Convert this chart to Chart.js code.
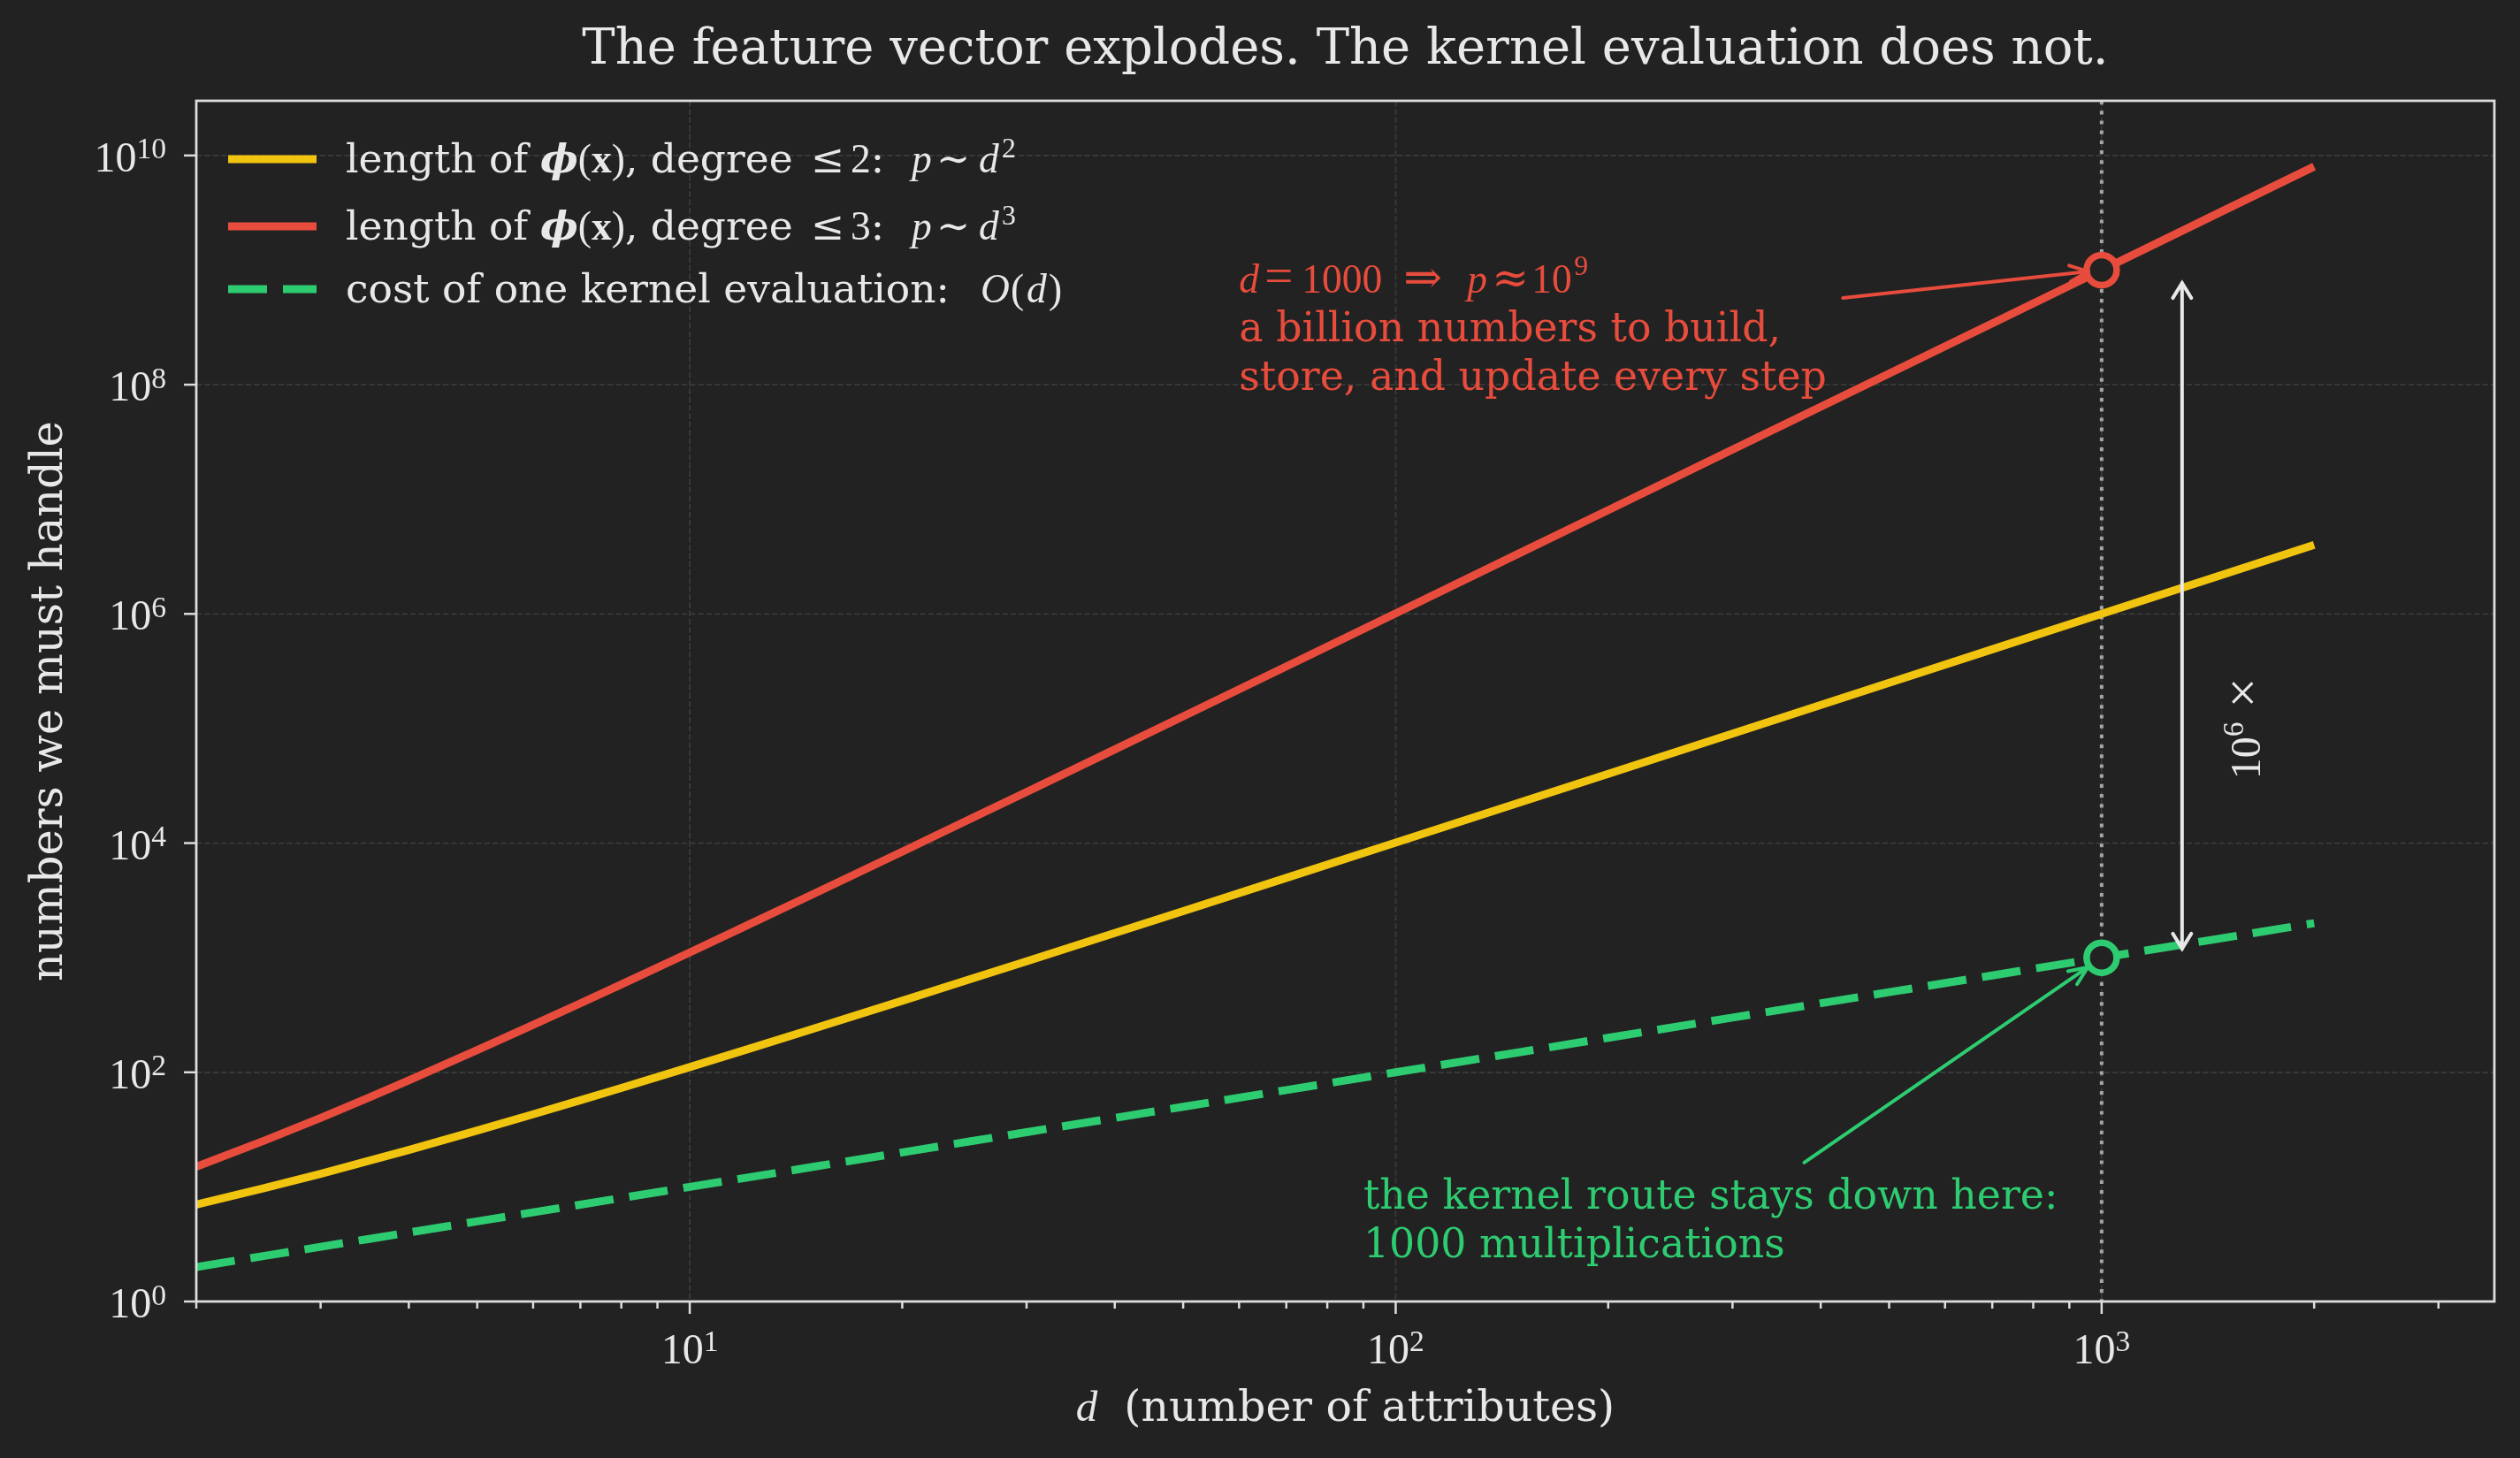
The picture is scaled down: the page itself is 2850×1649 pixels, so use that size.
<!DOCTYPE html>
<html>
<head>
<meta charset="utf-8">
<script src="https://cdn.jsdelivr.net/npm/chart.js@4.4.1/dist/chart.umd.min.js"></script>
<style>
	html, body { margin: 0; padding: 0; background: #222222; }
	canvas { display: block; }
</style>
</head>
<body>
<canvas id="chart" width="2850" height="1649"></canvas>
<script>
/*********************** DATA ******************************/
// d, число признаков
const dValues = [2, 2.5, 3, 3.5, 4, 5, 6, 7, 8, 10, 12, 15, 20, 25, 30, 40, 50, 70, 100, 150, 200, 300, 500, 700, 1000, 1500, 2000];
// длина phi(x) для степени <= 2
const lenDegree2 = [7, 9.8, 13, 16.8, 21, 31, 43, 57, 73, 111, 157, 241, 421, 651, 931, 1640, 2550, 4970,
	10100, 22650, 40200, 90300, 250500, 490700, 1.0e6, 2.25e6, 4.0e6];
// длина phi(x) для степени <= 3
const lenDegree3 = [15, 25.4, 40, 59.6, 85, 156, 259, 400, 585, 1110, 1890, 3620, 8420, 16300, 27900, 65600, 127500, 348000,
	1.01e6, 3.40e6, 8.04e6, 2.71e7, 1.25e8, 3.43e8, 1.0e9, 3.38e9, 8.0e9];
// стоимость одного вычисления ядра
const kernelCost = [2, 2.5, 3, 3.5, 4, 5, 6, 7, 8, 10, 12, 15, 20, 25, 30, 40, 50, 70,
	100, 150, 200, 300, 500, 700, 1000, 1500, 2000];

const xMajorTicks = [10, 100, 1000];
const xTickExponents = ['1', '2', '3'];
const xMinorTicks = [2, 3, 4, 5, 6, 7, 8, 9, 20, 30, 40, 50, 60, 70, 80, 90,
	200, 300, 400, 500, 600, 700, 800, 900, 2000, 3000];
const yMajorTicks = [1, 1e2, 1e4, 1e6, 1e8, 1e10];
const yTickExponents = ['0', '2', '4', '6', '8', '10'];

const seriesColors = { deg2: '#F1C40F', deg3: '#E74C3C', kernel: '#2ECC71' };

// подписи легенды (f = i/b/bi, m = формула, sup = индекс, at = смещение от начала строки, sz = масштаб)
const legendRows = [
	[{ t: 'length of ' }, { t: 'ϕ', f: 'bi', at: 220 }, { t: '(', m: 1 }, { t: 'x', f: 'b', m: 1 },
		{ t: ')', m: 1 }, { t: ', degree' }, { t: '≤', at: 526 }, { t: '2', m: 1, at: 571 }, { t: ':' },
		{ t: 'p', f: 'i', m: 1, at: 640 }, { t: '∼', at: 668 }, { t: 'd', f: 'i', m: 1, at: 716 },
		{ t: '2', m: 1, sup: true, at: 742 }],
	[{ t: 'length of ' }, { t: 'ϕ', f: 'bi', at: 220 }, { t: '(', m: 1 }, { t: 'x', f: 'b', m: 1 },
		{ t: ')', m: 1 }, { t: ', degree' }, { t: '≤', at: 526 }, { t: '3', m: 1, at: 571 }, { t: ':' },
		{ t: 'p', f: 'i', m: 1, at: 640 }, { t: '∼', at: 668 }, { t: 'd', f: 'i', m: 1, at: 716 },
		{ t: '3', m: 1, sup: true, at: 742 }],
	[{ t: 'cost of one kernel evaluation:' }, { t: 'O', f: 'i', m: 1, at: 718 }, { t: '(', m: 1, at: 752 },
		{ t: 'd', f: 'i', m: 1, at: 770 }, { t: ')', m: 1, at: 795 }],
];

/*********************** HELPERS ******************************/
const SERIF = '"DejaVu Serif", serif';
const MATH = '"Liberation Serif", "DejaVu Serif", serif';
const TEXT = '#e8e8e8';
const BG = '#222222';

function fontOf(s, size) {
	const it = s.f === 'i' || s.f === 'bi' ? 'italic ' : '';
	const bd = s.f === 'b' || s.f === 'bi' ? 'bold ' : '';
	return `${it}${bd}${size}px ${s.m ? MATH : SERIF}`;
}
function segSize(s, size) {
	return size * (s.sz || 1) * (s.sup ? 0.7 : 1);
}
function segWidth(ctx, s, size) {
	if (s.g) return s.g;
	ctx.font = fontOf(s, segSize(s, size));
	return ctx.measureText(s.t).width;
}
// рисуем строку из сегментов разного начертания, y - базовая линия
function drawRich(ctx, segs, x, y, size, color, align, raise = 0.36) {
	const w = segs.reduce((acc, s) => acc + segWidth(ctx, s, size), 0);
	const start = align === 'center' ? x - w / 2 : align === 'right' ? x - w : x;
	let cx = start;
	ctx.fillStyle = color;
	ctx.textAlign = 'left';
	ctx.textBaseline = 'alphabetic';
	for (const s of segs) {
		if (s.at !== undefined) cx = start + s.at;
		if (!s.g) {
			ctx.font = fontOf(s, segSize(s, size));
			ctx.fillText(s.t, cx, s.sup ? y - size * (s.r || raise) : y);
		}
		cx += segWidth(ctx, s, size);
	}
}
function arrowHead(ctx, tipX, tipY, fromX, fromY, len, half) {
	const ang = Math.atan2(tipY - fromY, tipX - fromX);
	const bx = tipX - len * Math.cos(ang);
	const by = tipY - len * Math.sin(ang);
	const px = -Math.sin(ang) * half;
	const py = Math.cos(ang) * half;
	ctx.beginPath();
	ctx.moveTo(bx + px, by + py);
	ctx.lineTo(tipX, tipY);
	ctx.lineTo(bx - px, by - py);
	ctx.stroke();
}
// стрелка от (x0,y0) к точке, укороченная на shrink пикселей
function arrow(ctx, x0, y0, x1, y1, shrink, color, width) {
	const ang = Math.atan2(y1 - y0, x1 - x0);
	const tx = x1 - shrink * Math.cos(ang);
	const ty = y1 - shrink * Math.sin(ang);
	ctx.save();
	ctx.strokeStyle = color;
	ctx.lineWidth = width;
	ctx.lineCap = 'round';
	ctx.lineJoin = 'round';
	ctx.beginPath();
	ctx.moveTo(x0, y0);
	ctx.lineTo(tx, ty);
	ctx.stroke();
	arrowHead(ctx, tx, ty, x0, y0, 21, 9);
	ctx.restore();
}

/*********************** PLUGIN ******************************/
const decorations = {
	id: 'decorations',
	beforeDraw(chart) {
		const { ctx, width, height } = chart;
		ctx.save();
		ctx.fillStyle = BG;
		ctx.fillRect(0, 0, width, height);
		ctx.restore();
	},
	beforeDatasetsDraw(chart) {
		const { ctx, chartArea: { left, right, top, bottom }, scales: { x, y } } = chart;
		ctx.save();
		// сетка
		ctx.strokeStyle = '#3b3b3b';
		ctx.lineWidth = 1.75;
		ctx.setLineDash([6.5, 2.8]);
		xMajorTicks.forEach((v) => {
			const px = x.getPixelForValue(v);
			ctx.beginPath(); ctx.moveTo(px, top); ctx.lineTo(px, bottom); ctx.stroke();
		});
		yMajorTicks.forEach((v) => {
			const py = y.getPixelForValue(v);
			ctx.beginPath(); ctx.moveTo(left, py); ctx.lineTo(right, py); ctx.stroke();
		});
		// вертикальная пунктирная линия d = 1000
		ctx.strokeStyle = '#a5a5a5';
		ctx.lineWidth = 4;
		ctx.setLineDash([4.2, 7]);
		const px = x.getPixelForValue(1000);
		ctx.beginPath(); ctx.moveTo(px, top); ctx.lineTo(px, bottom); ctx.stroke();
		ctx.restore();
	},
	afterDatasetsDraw(chart) {
		const { ctx, chartArea: { left, right, top, bottom }, scales: { x, y } } = chart;
		ctx.save();
		// рамка
		ctx.strokeStyle = '#dddddd';
		ctx.lineWidth = 2.8;
		ctx.strokeRect(left, top, right - left, bottom - top);
		// деления
		ctx.lineWidth = 2.5;
		xMajorTicks.forEach((v) => {
			const px = x.getPixelForValue(v);
			ctx.beginPath(); ctx.moveTo(px, bottom); ctx.lineTo(px, bottom + 14); ctx.stroke();
		});
		xMinorTicks.forEach((v) => {
			const px = x.getPixelForValue(v);
			ctx.beginPath(); ctx.moveTo(px, bottom); ctx.lineTo(px, bottom + 8); ctx.stroke();
		});
		yMajorTicks.forEach((v) => {
			const py = y.getPixelForValue(v);
			ctx.beginPath(); ctx.moveTo(left, py); ctx.lineTo(left - 14, py); ctx.stroke();
		});
		// подписи делений
		xMajorTicks.forEach((v, i) => {
			drawRich(ctx, [{ t: '10', m: 1 }, { t: xTickExponents[i], m: 1, sup: true }],
				x.getPixelForValue(v), bottom + 70, 48, TEXT, 'center', 0.3);
		});
		yMajorTicks.forEach((v, i) => {
			drawRich(ctx, [{ t: '10', m: 1 }, { t: yTickExponents[i], m: 1, sup: true }],
				left - 34, y.getPixelForValue(v) + 18, 48, TEXT, 'right', 0.3);
		});
		// подписи осей и заголовок
		const midX = (left + right) / 2;
		drawRich(ctx, [{ t: 'd', f: 'i', m: 1 }, { g: 30 }, { t: '(number of attributes)' }], midX, 1607, 49, TEXT, 'center');
		ctx.save();
		ctx.translate(70, (top + bottom) / 2);
		ctx.rotate(-Math.PI / 2);
		drawRich(ctx, [{ t: 'numbers we must handle' }], 0, 0, 49.5, TEXT, 'center');
		ctx.restore();
		drawRich(ctx, [{ t: 'The feature vector explodes. The kernel evaluation does not.' }], midX, 72, 56, TEXT, 'center');

		// легенда
		const rowY = [180, 256, 327];
		const rowColors = [seriesColors.deg2, seriesColors.deg3, seriesColors.kernel];
		legendRows.forEach((segs, i) => {
			ctx.save();
			ctx.strokeStyle = rowColors[i];
			ctx.lineWidth = 9;
			if (i === 2) ctx.setLineDash([44, 18]);
			ctx.beginPath(); ctx.moveTo(258, rowY[i]); ctx.lineTo(358, rowY[i]); ctx.stroke();
			ctx.restore();
			drawRich(ctx, segs, 391, rowY[i] + 15, 45.5, TEXT, 'left', 0.37);
		});

		// маркеры в d = 1000
		const cx = x.getPixelForValue(1000);
		const redY = y.getPixelForValue(1e9);
		const greenY = y.getPixelForValue(1e3);
		[[redY, seriesColors.deg3], [greenY, seriesColors.kernel]].forEach(([cy, col]) => {
			ctx.beginPath();
			ctx.arc(cx, cy, 17, 0, Math.PI * 2);
			ctx.fillStyle = BG;
			ctx.fill();
			ctx.strokeStyle = col;
			ctx.lineWidth = 7.5;
			ctx.stroke();
		});

		// красная аннотация
		arrow(ctx, x.getPixelForValue(430), y.getPixelForValue(5.7e8), cx, redY, 15, seriesColors.deg3, 4);
		const rx = x.getPixelForValue(60);
		const ry = y.getPixelForValue(6.3e8);
		drawRich(ctx, [{ t: 'd', f: 'i', m: 1, at: 0 }, { t: '=', m: 1, at: 29, sz: 1.25 }, { t: '1000', m: 1, at: 71 },
			{ t: '⇒', at: 186, sz: 1.15 }, { t: 'p', f: 'i', m: 1, at: 258 }, { t: '≈', at: 286, sz: 1.1 },
			{ t: '10', m: 1, at: 331 }, { t: '9', m: 1, sup: true, at: 379 }], rx, ry, 45.5, seriesColors.deg3, 'left', 0.44);
		drawRich(ctx, [{ t: 'a billion numbers to build,' }], rx, ry + 55, 45.8, seriesColors.deg3, 'left');
		drawRich(ctx, [{ t: 'store, and update every step' }], rx, ry + 110, 45.8, seriesColors.deg3, 'left');

		// зеленая аннотация
		arrow(ctx, x.getPixelForValue(379), y.getPixelForValue(16.3), cx, greenY, 19, seriesColors.kernel, 4);
		const gx = x.getPixelForValue(90);
		const gy = y.getPixelForValue(6.46);
		drawRich(ctx, [{ t: 'the kernel route stays down here:' }], gx, gy, 45.8, seriesColors.kernel, 'left');
		drawRich(ctx, [{ t: '1000 multiplications' }], gx, gy + 55, 45.8, seriesColors.kernel, 'left');

		// двойная стрелка 10^6
		const ax = x.getPixelForValue(1300);
		const aTop = y.getPixelForValue(7.7e8);
		const aBot = y.getPixelForValue(1.2e3);
		ctx.strokeStyle = TEXT;
		ctx.lineWidth = 4;
		ctx.lineCap = 'round';
		ctx.beginPath(); ctx.moveTo(ax, aTop); ctx.lineTo(ax, aBot); ctx.stroke();
		arrowHead(ctx, ax, aTop, ax, aBot, 17, 10.5);
		arrowHead(ctx, ax, aBot, ax, aTop, 17, 10.5);
		ctx.save();
		ctx.translate(x.getPixelForValue(1600), y.getPixelForValue(1e5));
		ctx.rotate(-Math.PI / 2);
		drawRich(ctx, [{ t: '10', m: 1 }, { t: '6', m: 1, sup: true }, { g: 16 }, { t: '×', m: 1, sz: 1.25 }],
			0, 16, 48, TEXT, 'center', 0.4);
		ctx.restore();

		ctx.restore();
	},
};

/*********************** CHART ******************************/
const toPoints = (ys) => dValues.map((d, i) => ({ x: d, y: ys[i] }));

const chartConfig = {
	type: 'line',
	data: {
		datasets: [
			{ data: toPoints(lenDegree2), borderColor: seriesColors.deg2, borderWidth: 9 },
			{ data: toPoints(lenDegree3), borderColor: seriesColors.deg3, borderWidth: 9 },
			{ data: toPoints(kernelCost), borderColor: seriesColors.kernel, borderWidth: 9, borderDash: [44, 18] },
		],
	},
	options: {
		responsive: false,
		animation: false,
		devicePixelRatio: 1,
		elements: { point: { radius: 0 }, line: { tension: 0, borderCapStyle: 'butt', borderJoinStyle: 'round' } },
		layout: { padding: { left: 0, right: 29, top: 114, bottom: 0 } },
		plugins: { legend: { display: false }, tooltip: { enabled: false } },
		scales: {
			x: {
				type: 'logarithmic',
				min: 2,
				max: 3600,
				grid: { display: false },
				border: { display: false },
				ticks: { display: false },
				afterFit: (scale) => { scale.height = 177; },
			},
			y: {
				type: 'logarithmic',
				min: 1,
				max: 3e10,
				grid: { display: false },
				border: { display: false },
				ticks: { display: false },
				afterFit: (scale) => { scale.width = 222; },
			},
		},
	},
	plugins: [decorations],
};

new Chart(document.getElementById('chart'), chartConfig);
</script>
</body>
</html>
